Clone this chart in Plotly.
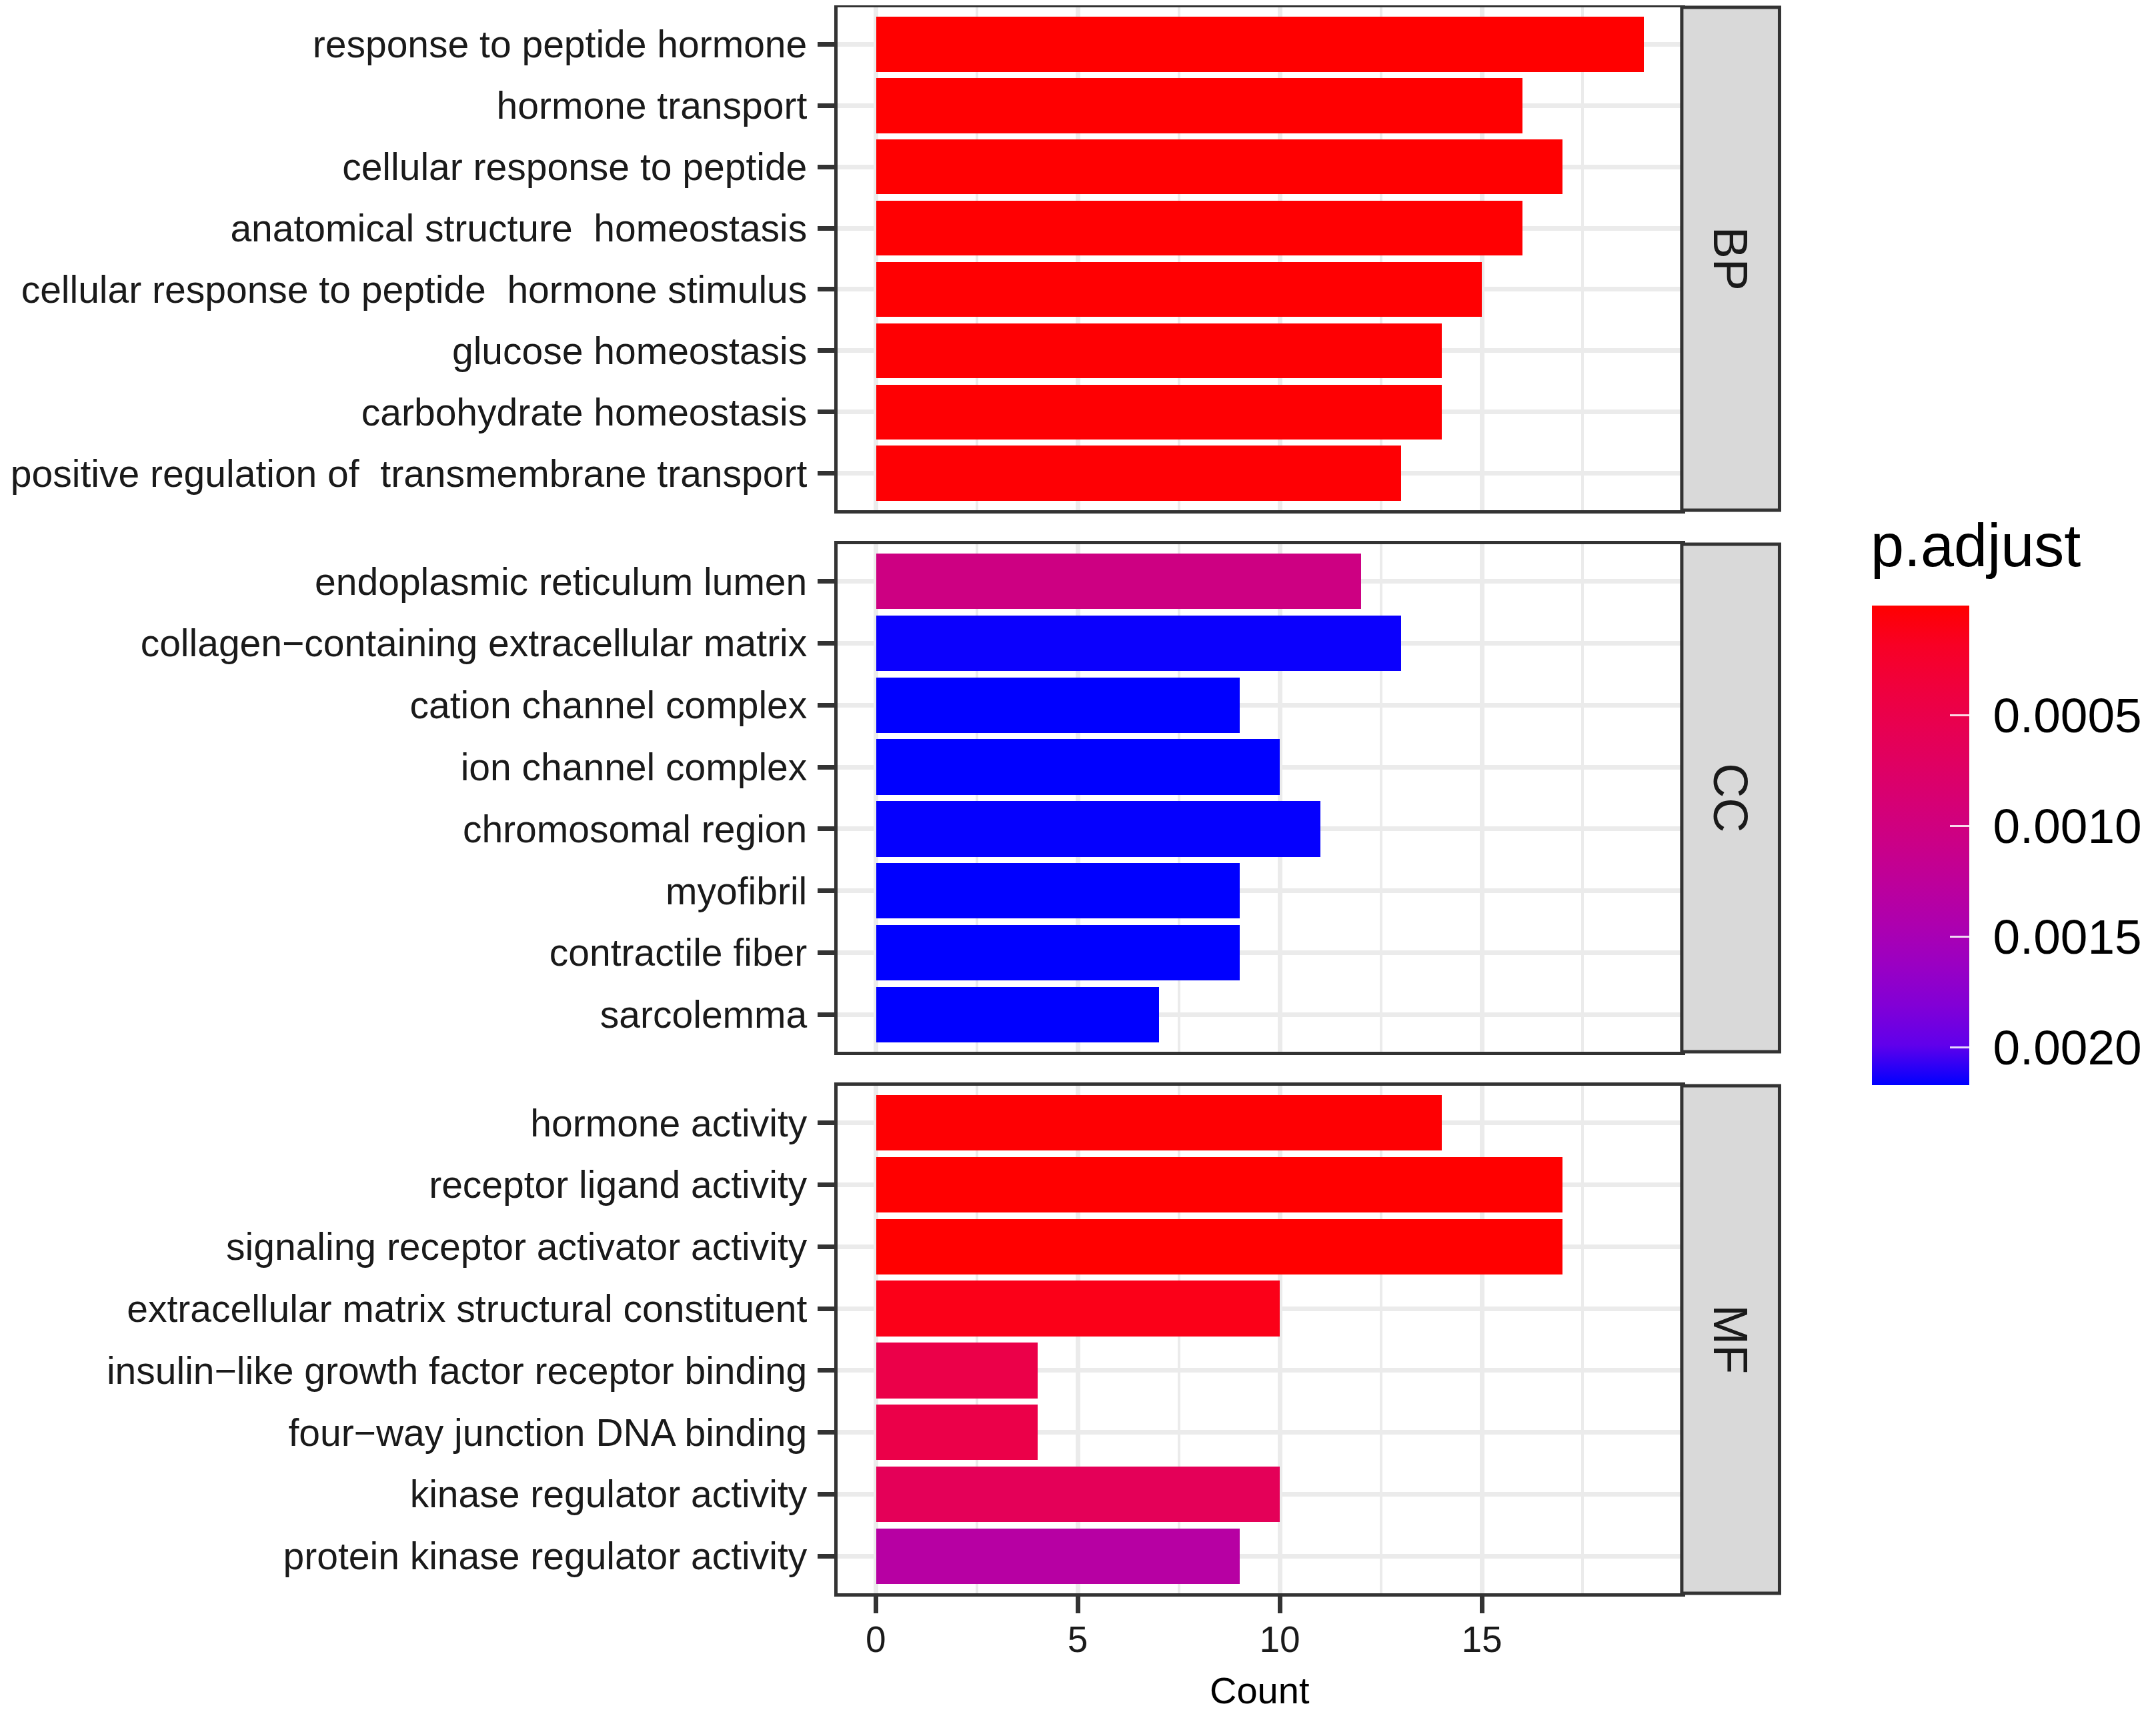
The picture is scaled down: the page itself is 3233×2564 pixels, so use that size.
import plotly.graph_objects as go

W, H = 3233, 2564
FONT = "Liberation Sans, Arial, sans-serif"

# GO terms per ontology, listed top to bottom as drawn
bp_terms = ["response to peptide hormone", "hormone transport", "cellular response to peptide",
            "anatomical structure\u00a0 homeostasis", "cellular response to peptide\u00a0 hormone stimulus",
            "glucose homeostasis", "carbohydrate homeostasis",
            "positive regulation of\u00a0 transmembrane transport"]
bp_count = [19, 16, 17, 16, 15, 14, 14, 13]
bp_padj = [0.0000045, 0.0000089, 0.0000089, 0.000012, 0.000015, 0.000018, 0.000018, 0.000024]

cc_terms = ["endoplasmic reticulum lumen", "collagen\u2212containing extracellular matrix",
            "cation channel complex", "ion channel complex", "chromosomal region",
            "myofibril", "contractile fiber", "sarcolemma"]
cc_count = [12, 13, 9, 10, 11, 9, 9, 7]
cc_padj = [0.00103, 0.00215, 0.00217, 0.00217, 0.00216, 0.00217, 0.00217, 0.00217]

mf_terms = ["hormone activity", "receptor ligand activity", "signaling receptor activator activity",
            "extracellular matrix structural constituent", "insulin\u2212like growth factor receptor binding",
            "four\u2212way junction DNA binding", "kinase regulator activity",
            "protein kinase regulator activity"]
mf_count = [14, 17, 17, 10, 4, 4, 10, 9]
mf_padj = [0.000020, 0.0000045, 0.0000045, 0.00012, 0.00048, 0.00048, 0.00062, 0.00133]

panels = ["BP", "CC", "MF"]
colorbar_ticks = [0.0005, 0.0010, 0.0015, 0.0020]

# positions below are reference pixels; the page shifts/squeezes the figure a little
fx = lambda p: (p * 1.0073 - 2.6) / W
fy = lambda p: 1 - (p - 8) / H


# red -> blue gradient interpolated in CIELAB, like ggplot's continuous scale
def to_lab(rgb):
    def lin(c):
        c = c / 255
        return c / 12.92 if c <= 0.04045 else ((c + 0.055) / 1.055) ** 2.4
    r, g, b = [lin(c) for c in rgb]
    x = (0.4124 * r + 0.3576 * g + 0.1805 * b) / 0.95047
    y = (0.2126 * r + 0.7152 * g + 0.0722 * b) / 1.0
    z = (0.0193 * r + 0.1192 * g + 0.9505 * b) / 1.08883
    f = lambda t: t ** (1 / 3) if t > 0.008856 else 7.787 * t + 16 / 116
    fx_, fy_, fz_ = f(x), f(y), f(z)
    return 116 * fy_ - 16, 500 * (fx_ - fy_), 200 * (fy_ - fz_)


def from_lab(lab):
    L, a, bb = lab
    fy_ = (L + 16) / 116
    fx_ = fy_ + a / 500
    fz_ = fy_ - bb / 200
    finv = lambda t: t ** 3 if t ** 3 > 0.008856 else (t - 16 / 116) / 7.787
    x, y, z = finv(fx_) * 0.95047, finv(fy_), finv(fz_) * 1.08883
    r = 3.2406 * x - 1.5372 * y - 0.4986 * z
    g = -0.9689 * x + 1.8758 * y + 0.0415 * z
    b = 0.0557 * x - 0.2040 * y + 1.0570 * z
    def gam(c):
        c = max(0.0, min(1.0, c))
        return 12.92 * c if c <= 0.0031308 else 1.055 * c ** (1 / 2.4) - 0.055
    return "rgb(%d,%d,%d)" % tuple(round(gam(c) * 255) for c in (r, g, b))


red_lab, blue_lab = to_lab((255, 0, 0)), to_lab((0, 0, 255))
n = 12
# colour values are negated so the bar runs low (red) at top, high (blue) at bottom
scale = []
for i in range(n + 1):
    t = i / n  # 0 = blue (high p), 1 = red (low p)
    lab = tuple(bv + (rv - bv) * t for rv, bv in zip(red_lab, blue_lab))
    scale.append([t, from_lab(lab)])

all_p = bp_padj + cc_padj + mf_padj
cmin, cmax = -max(all_p), -min(all_p)

fig = go.Figure()

rows_px = [(11, 765), (816, 1577), (1628, 2389)]
x0, x1 = fx(1254), fx(2524)
sx0, sx1 = fx(2524), fx(2671)
data = [(bp_terms, bp_count, bp_padj), (cc_terms, cc_count, cc_padj), (mf_terms, mf_count, mf_padj)]

shapes = []
annotations = []
for i, (terms, counts, padj) in enumerate(data):
    k = "" if i == 0 else str(i + 1)
    fig.add_trace(go.Bar(
        y=terms, x=counts, orientation="h", width=0.9,
        marker=dict(color=[-p for p in padj], coloraxis="coloraxis", line=dict(width=0)),
        xaxis="x" + k, yaxis="y" + k, showlegend=False,
    ))
    top, bot = rows_px[i]
    dom = [fy(bot), fy(top)]
    last = i == 2
    fig.update_layout({
        "xaxis" + k: dict(
            domain=[x0, x1], range=[-0.95, 19.95], anchor="y" + k,
            tickvals=[0, 5, 10, 15], showticklabels=last,
            ticks="outside" if last else "", ticklen=25, tickwidth=7, tickcolor="#333333",
            ticklabelstandoff=-8,
            tickfont=dict(size=55, color="#1a1a1a", family=FONT),
            showgrid=True, gridcolor="#EBEBEB", gridwidth=7,
            minor=dict(dtick=2.5, tick0=0, showgrid=True, gridcolor="#EBEBEB", gridwidth=4),
            showline=True, mirror=True, linecolor="#333333", linewidth=5,
            zeroline=False, automargin=False, fixedrange=True,
        ),
        "yaxis" + k: dict(
            domain=dom, anchor="x" + k, type="category",
            categoryorder="array", categoryarray=terms, range=[7.6, -0.6],
            ticks="outside", ticklen=25, tickwidth=7, tickcolor="#333333",
            ticklabelstandoff=4,
            tickfont=dict(size=57, color="#1a1a1a", family=FONT),
            showgrid=True, gridcolor="#EBEBEB", gridwidth=7,
            showline=True, mirror=True, linecolor="#333333", linewidth=5,
            zeroline=False, automargin=False,
        ),
    })
    shapes.append(dict(type="rect", xref="paper", yref="paper", x0=sx0, x1=sx1,
                       y0=dom[0], y1=dom[1], fillcolor="#D9D9D9",
                       line=dict(color="#333333", width=5), layer="above"))
    annotations.append(dict(text=panels[i], xref="paper", yref="paper",
                            x=(sx0 + sx1) / 2, y=(dom[0] + dom[1]) / 2, textangle=90,
                            xanchor="center", yanchor="middle",
                            showarrow=False, font=dict(size=72, color="#1a1a1a", family=FONT)))

annotations.append(dict(text="Count", xref="paper", yref="paper", x=(x0 + x1) / 2,
                        y=fy(2534), xanchor="center", yanchor="middle", showarrow=False,
                        font=dict(size=56, color="#000000", family=FONT)))

# colour bar geometry (reference pixels)
cb_top, cb_bot, cb_left, cb_right = 908, 1627, 2810, 2955
pad = "\u00a0"

annotations.append(dict(text="p.adjust", xref="paper", yref="paper", x=fx(cb_left - 4),
                        y=fy(818), xanchor="left", yanchor="middle", showarrow=False,
                        font=dict(size=90, color="#000000", family=FONT)))

fig.update_layout(
    width=W, height=H, template="none",
    paper_bgcolor="white", plot_bgcolor="white",
    margin=dict(l=0, r=0, t=0, b=0),
    font=dict(family=FONT),
    bargap=0,
    coloraxis=dict(
        colorscale=scale, cmin=cmin, cmax=cmax,
        colorbar=dict(
            x=fx(cb_left), xanchor="left", xpad=0, ypad=0,
            y=fy(cb_bot), yanchor="bottom",
            lenmode="pixels", len=cb_bot - cb_top,
            thickness=round((fx(cb_right) - fx(cb_left)) * W),
            outlinewidth=0,
            tickvals=[-v for v in colorbar_ticks], ticktext=[pad + "%.4f" % v for v in colorbar_ticks],
            ticks="inside", ticklen=29, tickwidth=3, tickcolor="rgba(255,255,255,0.85)",
            tickfont=dict(size=73, color="#000000", family=FONT),
        ),
    ),
    shapes=shapes,
    annotations=annotations,
)

fig.write_html("out.html")
